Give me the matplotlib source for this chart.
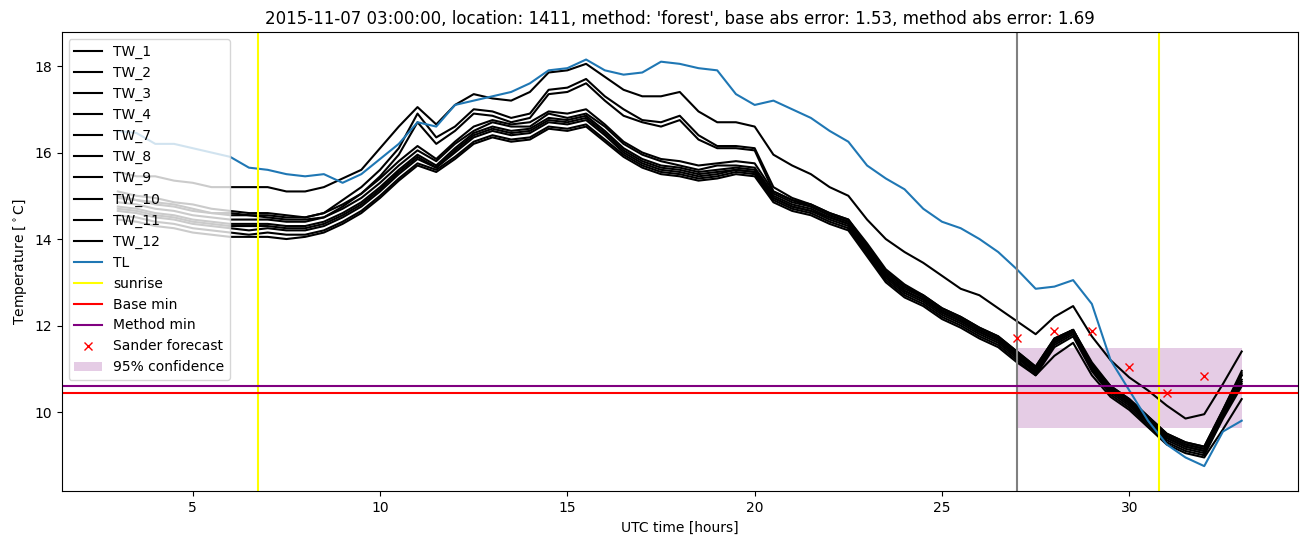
import numpy as np
import matplotlib
matplotlib.use('Agg')
import matplotlib.pyplot as plt

hours = np.arange(3, 33.01, 0.5)

tw_1 = [15.55, 15.45, 15.45, 15.35, 15.3, 15.2, 15.2, 15.2, 15.2, 15.1, 15.1, 15.2, 15.4, 15.6, 16.1, 16.6,
        17.05, 16.65, 17.1, 17.35, 17.25, 17.2, 17.4, 17.85, 17.9, 18.05, 17.75, 17.45, 17.3, 17.3, 17.4, 16.95,
        16.7, 16.7, 16.6, 15.95, 15.7, 15.5, 15.2, 15.0, 14.45, 14.0, 13.7, 13.45, 13.15, 12.85, 12.7, 12.4,
        12.1, 11.8, 12.2, 12.45, 11.75, 11.2, 10.8, 10.5, 10.15, 9.85, 9.95, 10.65, 11.4]
tw_2 = [15.1, 15.0, 14.95, 14.85, 14.8, 14.7, 14.65, 14.6, 14.6, 14.55, 14.5, 14.6, 14.9, 15.2, 15.6, 16.1,
        16.9, 16.35, 16.6, 17.0, 16.95, 16.8, 16.9, 17.45, 17.5, 17.7, 17.3, 17.0, 16.75, 16.7, 16.85, 16.4,
        16.15, 16.15, 16.1, 15.2, 14.95, 14.8, 14.6, 14.45, 13.9, 13.3, 12.95, 12.7, 12.4, 12.2, 11.95, 11.75,
        11.4, 11.05, 11.7, 11.9, 11.1, 10.6, 10.3, 9.9, 9.5, 9.3, 9.2, 10.05, 10.9]
tw_3 = [15.0, 14.9, 14.85, 14.8, 14.7, 14.6, 14.6, 14.55, 14.5, 14.45, 14.45, 14.5, 14.75, 15.05, 15.45, 15.95,
        16.7, 16.2, 16.5, 16.9, 16.85, 16.7, 16.8, 17.35, 17.4, 17.6, 17.2, 16.85, 16.7, 16.6, 16.75, 16.3,
        16.1, 16.1, 16.05, 15.1, 14.9, 14.75, 14.55, 14.4, 13.85, 13.25, 12.9, 12.65, 12.35, 12.15, 11.9, 11.7,
        11.35, 11.0, 11.65, 11.9, 11.05, 10.55, 10.25, 9.85, 9.45, 9.25, 9.15, 10.0, 10.85]
tw_4 = [14.95, 14.9, 14.8, 14.75, 14.65, 14.6, 14.55, 14.55, 14.55, 14.5, 14.5, 14.6, 14.8, 15.05, 15.4, 15.8,
        16.15, 15.85, 16.25, 16.6, 16.75, 16.65, 16.7, 16.95, 16.9, 17.0, 16.65, 16.25, 16.0, 15.85, 15.8, 15.7,
        15.75, 15.8, 15.75, 15.1, 14.9, 14.8, 14.6, 14.45, 13.85, 13.25, 12.9, 12.7, 12.4, 12.2, 11.95, 11.75,
        11.4, 11.05, 11.7, 11.9, 11.15, 10.6, 10.3, 9.9, 9.5, 9.3, 9.2, 10.05, 10.95]
tw_7 = [14.85, 14.8, 14.7, 14.65, 14.55, 14.5, 14.45, 14.45, 14.45, 14.4, 14.4, 14.5, 14.7, 14.95, 15.3, 15.7,
        16.05, 15.8, 16.2, 16.5, 16.7, 16.6, 16.6, 16.9, 16.8, 16.9, 16.6, 16.2, 15.95, 15.8, 15.7, 15.6,
        15.7, 15.7, 15.65, 15.05, 14.85, 14.75, 14.55, 14.4, 13.8, 13.2, 12.85, 12.65, 12.35, 12.15, 11.9, 11.7,
        11.35, 11.0, 11.65, 11.9, 11.1, 10.55, 10.25, 9.85, 9.45, 9.25, 9.15, 10.0, 10.85]
tw_8 = [14.75, 14.7, 14.6, 14.55, 14.45, 14.4, 14.35, 14.35, 14.35, 14.3, 14.3, 14.4, 14.6, 14.85, 15.2, 15.6,
        15.95, 15.7, 16.1, 16.45, 16.6, 16.5, 16.55, 16.8, 16.75, 16.85, 16.5, 16.1, 15.85, 15.7, 15.65, 15.55,
        15.6, 15.65, 15.6, 15.0, 14.8, 14.7, 14.5, 14.35, 13.75, 13.15, 12.8, 12.6, 12.3, 12.1, 11.85, 11.65,
        11.3, 10.95, 11.6, 11.85, 11.05, 10.5, 10.2, 9.8, 9.4, 9.2, 9.1, 9.95, 10.75]
tw_9 = [14.65, 14.6, 14.5, 14.45, 14.35, 14.3, 14.25, 14.2, 14.25, 14.2, 14.2, 14.3, 14.5, 14.75, 15.1, 15.5,
        15.85, 15.65, 16.0, 16.35, 16.5, 16.4, 16.45, 16.7, 16.65, 16.75, 16.4, 16.0, 15.75, 15.6, 15.55, 15.45,
        15.5, 15.6, 15.55, 14.95, 14.75, 14.65, 14.45, 14.3, 13.7, 13.1, 12.75, 12.55, 12.25, 12.05, 11.8, 11.6,
        11.25, 10.9, 11.55, 11.8, 11.0, 10.45, 10.15, 9.75, 9.35, 9.15, 9.05, 9.9, 10.65]
tw_10 = [14.55, 14.5, 14.4, 14.35, 14.25, 14.2, 14.15, 14.1, 14.15, 14.1, 14.1, 14.2, 14.4, 14.65, 15.0, 15.4,
         15.75, 15.6, 15.9, 16.25, 16.4, 16.3, 16.35, 16.6, 16.55, 16.65, 16.3, 15.95, 15.7, 15.55, 15.5, 15.4,
         15.45, 15.55, 15.5, 14.9, 14.7, 14.6, 14.4, 14.25, 13.65, 13.05, 12.7, 12.5, 12.2, 12.0, 11.75, 11.55,
         11.2, 10.85, 11.5, 11.75, 10.95, 10.4, 10.1, 9.7, 9.3, 9.1, 9.0, 9.85, 10.6]
tw_11 = [14.7, 14.65, 14.55, 14.5, 14.4, 14.35, 14.3, 14.3, 14.3, 14.25, 14.25, 14.35, 14.55, 14.8, 15.15, 15.55,
         15.9, 15.65, 16.05, 16.4, 16.55, 16.45, 16.5, 16.75, 16.7, 16.8, 16.45, 16.05, 15.8, 15.65, 15.6, 15.5,
         15.55, 15.6, 15.55, 14.95, 14.75, 14.65, 14.5, 14.35, 13.75, 13.15, 12.8, 12.6, 12.3, 12.1, 11.85, 11.65,
         11.3, 10.9, 11.6, 11.85, 11.05, 10.5, 10.2, 9.8, 9.4, 9.2, 9.1, 9.95, 10.7]
tw_12 = [14.45, 14.4, 14.3, 14.25, 14.15, 14.1, 14.05, 14.05, 14.05, 14.0, 14.05, 14.15, 14.35, 14.6, 14.95, 15.35,
         15.7, 15.55, 15.85, 16.2, 16.35, 16.25, 16.3, 16.55, 16.5, 16.6, 16.25, 15.9, 15.65, 15.5, 15.45, 15.35,
         15.4, 15.5, 15.45, 14.85, 14.65, 14.55, 14.35, 14.2, 13.6, 13.0, 12.65, 12.45, 12.15, 11.95, 11.7, 11.5,
         11.15, 10.85, 11.3, 11.6, 10.85, 10.35, 10.05, 9.65, 9.25, 9.05, 8.95, 9.6, 10.3]
tl = [16.5, 16.45, 16.2, 16.2, 16.1, 16.0, 15.9, 15.65, 15.6, 15.5, 15.45, 15.5, 15.3, 15.5, 15.85, 16.2,
      16.7, 16.6, 17.1, 17.2, 17.3, 17.4, 17.6, 17.9, 17.95, 18.15, 17.9, 17.8, 17.85, 18.1, 18.05, 17.95,
      17.9, 17.35, 17.1, 17.2, 17.0, 16.8, 16.5, 16.25, 15.7, 15.4, 15.15, 14.7, 14.4, 14.25, 14.0, 13.7,
      13.3, 12.85, 12.9, 13.05, 12.5, 11.2, 10.5, 9.8, 9.25, 8.95, 8.75, 9.55, 9.8]

tw_names = ['TW_1', 'TW_2', 'TW_3', 'TW_4', 'TW_7', 'TW_8', 'TW_9', 'TW_10', 'TW_11', 'TW_12']
tw_series = [tw_1, tw_2, tw_3, tw_4, tw_7, tw_8, tw_9, tw_10, tw_11, tw_12]

sunrise = [6.73, 30.78]
forecast_time = 27
base_min = 10.44
method_min = 10.6
sander_hours = [27, 28, 29, 30, 31, 32]
sander_temp = [11.71, 11.87, 11.88, 11.04, 10.44, 10.83]
conf_hours = [27, 33]
conf_low = 9.63
conf_high = 11.48

fig, ax = plt.subplots(figsize=(13.11, 5.47), dpi=100)
fig.subplots_adjust(left=0.047, right=0.99, bottom=0.102, top=0.941)

for name, vals in zip(tw_names, tw_series):
    ax.plot(hours, vals, color='black', label=name)
ax.plot(hours, tl, color='tab:blue', label='TL')
ax.axvline(sunrise[0], color='yellow', label='sunrise')
ax.axvline(sunrise[1], color='yellow')
ax.axvline(forecast_time, color='grey')
ax.axhline(base_min, color='red', label='Base min')
ax.axhline(method_min, color='purple', label='Method min')
ax.plot(sander_hours, sander_temp, 'x', color='red', label='Sander forecast')
ax.fill_between(conf_hours, conf_low, conf_high, color='purple', alpha=0.2, linewidth=0,
                label='95% confidence')

ax.set_xlim(1.5, 34.5)
ax.set_ylim(8.17, 18.78)
ax.set_xlabel('UTC time [hours]')
ax.set_ylabel(r'Temperature [$^\circ$C]')
ax.set_title("2015-11-07 03:00:00, location: 1411, method: 'forest', base abs error: 1.53, method abs error: 1.69")
ax.legend(loc='upper left')

fig.savefig('out.png', dpi=100)
